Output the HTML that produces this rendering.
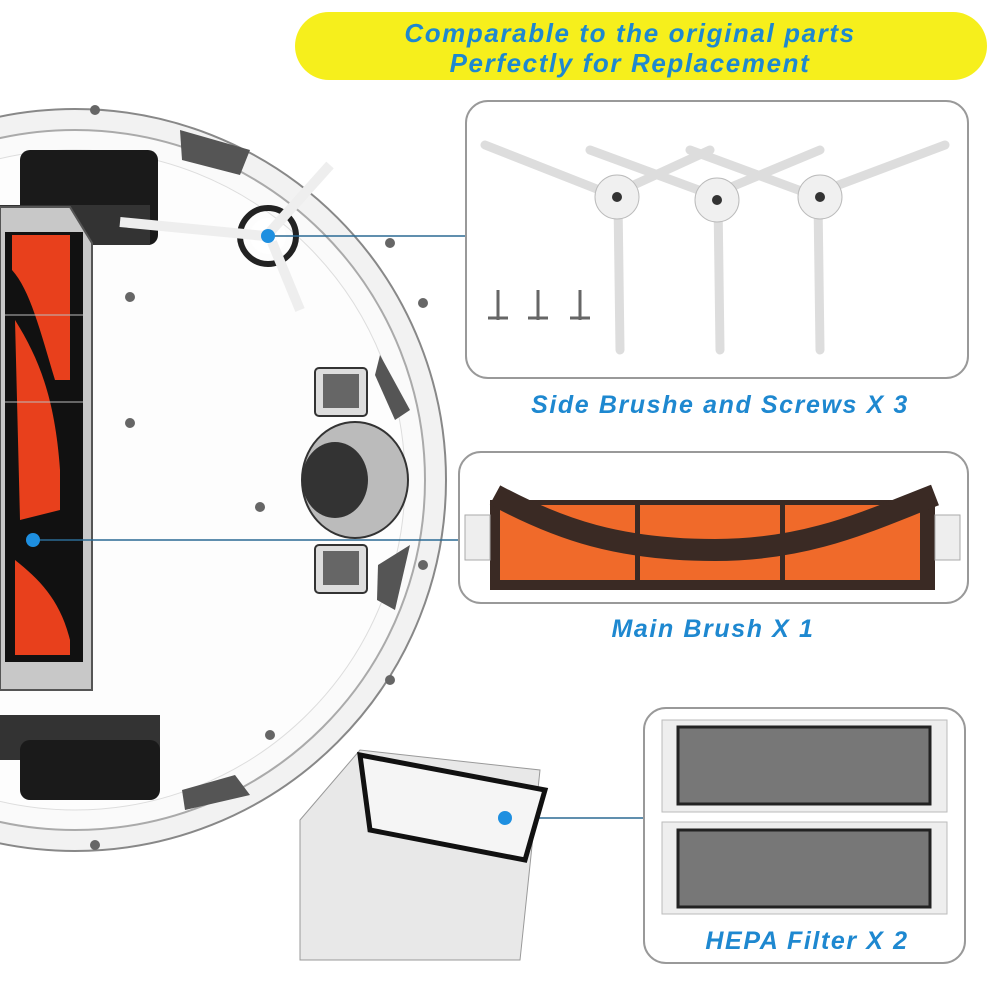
<!DOCTYPE html>
<html><head><style>
body{margin:0;background:#fff;width:1001px;height:1001px;overflow:hidden}
.t{font-family:"Liberation Sans",sans-serif;font-weight:bold;font-style:italic;fill:#1e88d0;letter-spacing:1.6px}
</style></head><body>
<svg width="1001" height="1001" viewBox="0 0 1001 1001" xmlns="http://www.w3.org/2000/svg">
<rect x="295" y="12" width="692" height="68" rx="34" fill="#f6ef1c"/>
<text x="630" y="42" text-anchor="middle" class="t" font-size="26">Comparable to the original parts</text>
<text x="630" y="72" text-anchor="middle" class="t" font-size="26">Perfectly for Replacement</text>

<!-- robot -->
<circle cx="75" cy="480" r="371" fill="#f2f2f2" stroke="#888" stroke-width="2"/>
<circle cx="75" cy="480" r="350" fill="#fafafa" stroke="#aaa" stroke-width="2"/>
<circle cx="75" cy="480" r="330" fill="#fdfdfd" stroke="#ddd" stroke-width="1"/>
<rect x="20" y="150" width="138" height="95" rx="10" fill="#1a1a1a"/>
<rect x="0" y="205" width="150" height="40" fill="#333"/>
<rect x="0" y="715" width="160" height="45" fill="#333"/>
<rect x="20" y="740" width="140" height="60" rx="10" fill="#1a1a1a"/>
<polygon points="0,207 70,207 92,243 92,690 0,690" fill="#c8c8c8" stroke="#555" stroke-width="2"/>
<rect x="5" y="232" width="78" height="430" fill="#111"/>
<path d="M12,235 L70,235 L70,380 L55,380 C40,330 30,290 12,270Z" fill="#e8401c"/>
<path d="M15,320 C40,360 55,400 60,470 L60,510 L20,520Z" fill="#e8401c"/>
<path d="M15,560 C40,580 60,600 70,640 L70,655 L15,655Z" fill="#e8401c"/>
<line x1="5" y1="315" x2="83" y2="315" stroke="#bbb"/>
<line x1="5" y1="402" x2="83" y2="402" stroke="#bbb"/>
<circle cx="268" cy="236" r="28" fill="none" stroke="#222" stroke-width="6"/>
<circle cx="268" cy="236" r="18" fill="#fff"/>
<path d="M120,222 L265,236" stroke="#eee" stroke-width="10"/>
<path d="M270,232 L330,165" stroke="#eee" stroke-width="10"/>
<path d="M272,242 L300,310" stroke="#eee" stroke-width="10"/>
<path d="M180,130 L250,150 L240,175 L182,160Z" fill="#555"/>
<path d="M380,355 L410,410 L395,420 L375,375Z" fill="#555"/>
<path d="M378,565 L410,545 L395,610 L377,600Z" fill="#555"/>
<path d="M182,790 L235,775 L250,795 L185,810Z" fill="#555"/>
<rect x="315" y="368" width="52" height="48" rx="4" fill="#ddd" stroke="#333" stroke-width="2"/>
<rect x="323" y="374" width="36" height="34" fill="#666"/>
<rect x="315" y="545" width="52" height="48" rx="4" fill="#ddd" stroke="#333" stroke-width="2"/>
<rect x="323" y="551" width="36" height="34" fill="#666"/>
<ellipse cx="355" cy="480" rx="53" ry="58" fill="#bbb" stroke="#333" stroke-width="2"/>
<ellipse cx="335" cy="480" rx="33" ry="38" fill="#333"/>
<g fill="#666"><circle cx="130" cy="297" r="5"/><circle cx="130" cy="423" r="5"/><circle cx="260" cy="507" r="5"/><circle cx="95" cy="110" r="5"/><circle cx="390" cy="243" r="5"/><circle cx="423" cy="303" r="5"/><circle cx="423" cy="565" r="5"/><circle cx="390" cy="680" r="5"/><circle cx="270" cy="735" r="5"/><circle cx="95" cy="845" r="5"/></g>

<line x1="268" y1="236" x2="466" y2="236" stroke="#2b6a94" stroke-width="1.5"/>
<line x1="33" y1="540" x2="459" y2="540" stroke="#2b6a94" stroke-width="1.5"/>
<line x1="505" y1="818" x2="644" y2="818" stroke="#2b6a94" stroke-width="1.5"/>
<circle cx="268" cy="236" r="7" fill="#1e8fe0"/>
<circle cx="33" cy="540" r="7" fill="#1e8fe0"/>

<rect x="466" y="101" width="502" height="277" rx="22" fill="#fff" stroke="#999" stroke-width="2"/>
<g stroke="#ddd" stroke-width="9" stroke-linecap="round" fill="none">
<path d="M485,145 L612,195 M612,195 L710,150 M618,200 L620,350"/>
<path d="M590,150 L712,195 M712,195 L820,150 M718,200 L720,350"/>
<path d="M690,150 L812,195 M812,195 L945,145 M818,200 L820,350"/>
</g>
<g fill="#f0f0f0" stroke="#bbb"><circle cx="617" cy="197" r="22"/><circle cx="717" cy="200" r="22"/><circle cx="820" cy="197" r="22"/></g>
<g fill="#333"><circle cx="617" cy="197" r="5"/><circle cx="717" cy="200" r="5"/><circle cx="820" cy="197" r="5"/></g>
<g stroke="#666" stroke-width="3" fill="none"><path d="M498,290 L498,320 M488,318 L508,318 M538,290 L538,320 M528,318 L548,318 M580,290 L580,320 M570,318 L590,318"/></g>
<text x="720" y="413" text-anchor="middle" class="t" font-size="25">Side Brushe and Screws X 3</text>

<rect x="459" y="452" width="509" height="151" rx="22" fill="#fff" stroke="#999" stroke-width="2"/>
<rect x="490" y="500" width="445" height="90" fill="#3a2a24"/>
<rect x="500" y="505" width="135" height="75" fill="#f06a2a"/>
<rect x="640" y="505" width="140" height="75" fill="#f06a2a"/>
<rect x="785" y="505" width="135" height="75" fill="#f06a2a"/>
<path d="M495,495 C560,530 620,550 715,550 C810,550 870,520 935,495" stroke="#3a2a24" stroke-width="22" fill="none"/>
<rect x="465" y="515" width="25" height="45" fill="#eee" stroke="#aaa"/>
<rect x="935" y="515" width="25" height="45" fill="#eee" stroke="#aaa"/>
<text x="713" y="637" text-anchor="middle" class="t" font-size="25">Main Brush X 1</text>

<polygon points="300,820 360,750 540,770 520,960 300,960" fill="#e8e8e8" stroke="#999"/>
<polygon points="360,755 545,790 525,860 370,830" fill="#f5f5f5" stroke="#111" stroke-width="5"/>
<circle cx="505" cy="818" r="7" fill="#1e8fe0"/>

<rect x="644" y="708" width="321" height="255" rx="22" fill="#fff" stroke="#999" stroke-width="2"/>
<rect x="662" y="720" width="285" height="92" fill="#eee" stroke="#bbb"/>
<rect x="678" y="727" width="252" height="77" fill="#777" stroke="#222" stroke-width="3"/>
<rect x="662" y="822" width="285" height="92" fill="#eee" stroke="#bbb"/>
<rect x="678" y="830" width="252" height="77" fill="#777" stroke="#222" stroke-width="3"/>
<text x="807" y="949" text-anchor="middle" class="t" font-size="25">HEPA Filter X 2</text>
</svg>
</body></html>
